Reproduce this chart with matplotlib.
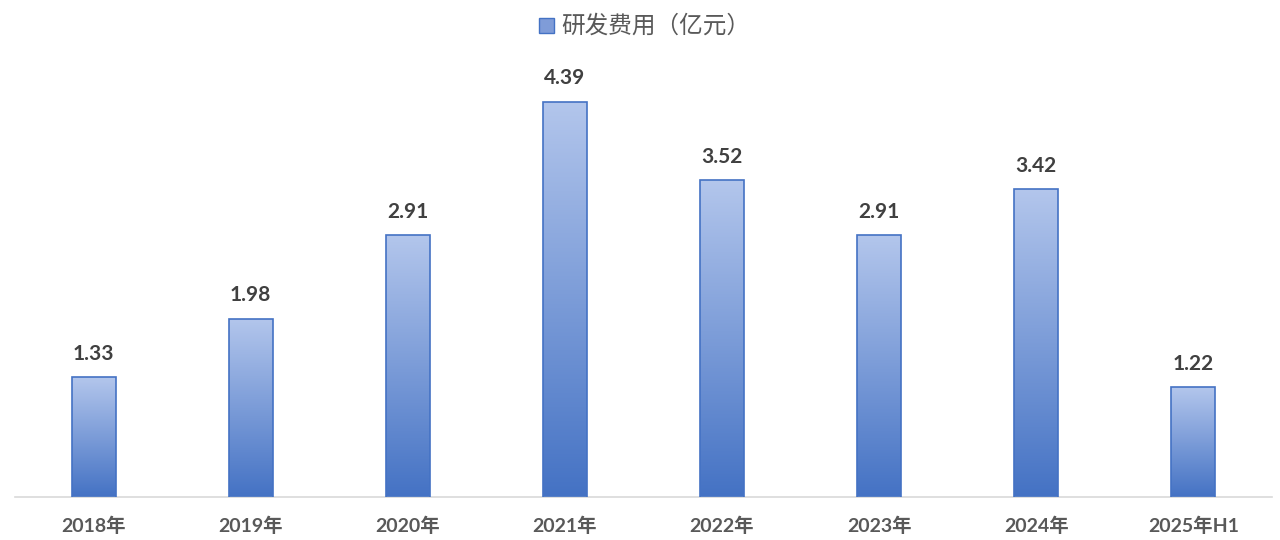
import numpy as np
import matplotlib.pyplot as plt
from matplotlib.patches import Rectangle
from matplotlib.colors import LinearSegmentedColormap

plt.rcParams['font.family'] = ['Lato', 'Noto Sans CJK SC', 'DejaVu Sans']

# data
years = ["2018年", "2019年", "2020年", "2021年", "2022年", "2023年", "2024年", "2025年H1"]
rd_cost = [1.33, 1.98, 2.91, 4.39, 3.52, 2.91, 3.42, 1.22]
series_name = "研发费用（亿元）"

grad = LinearSegmentedColormap.from_list("g", ["#4472c4", "#b3c6ec"])
edge = "#4472c4"

fig = plt.figure(figsize=(12.8, 5.4), dpi=100)
ax = fig.add_axes([15 / 1280, 43 / 540, 1257 / 1280, 450 / 540])

x = np.arange(len(years))
bars = ax.bar(x, rd_cost, width=0.28, color="none", edgecolor=edge, linewidth=1.2, zorder=3)

img = np.linspace(0, 1, 256).reshape(-1, 1)
for b, v in zip(bars, rd_cost):
    x0 = b.get_x()
    w = b.get_width()
    im = ax.imshow(img, cmap=grad, origin="lower", aspect="auto",
                   extent=[x0, x0 + w, 0, v], zorder=2)
    im.set_clip_path(b)
    ax.text(b.get_x() + w / 2, v + 0.15, f"{v:.2f}", ha="center", va="bottom",
            fontsize=15, fontweight="bold", color="#404040")

ax.set_xlim(-0.5, len(years) - 0.5)
ax.set_ylim(0, 5)
ax.set_xticks(x)
ax.set_xticklabels(years, fontsize=14, fontweight="bold", color="#595959")
ax.tick_params(axis="x", length=0, pad=14)
ax.set_yticks([])
for s in ["top", "right", "left"]:
    ax.spines[s].set_visible(False)
ax.spines["bottom"].set_color("#d9d9d9")
ax.spines["bottom"].set_linewidth(1.2)

# legend
fig.patches.append(Rectangle((539 / 1280, 1 - 33 / 540), 15 / 1280, 15 / 540,
                             transform=fig.transFigure, facecolor="#7f9cd8",
                             edgecolor=edge, linewidth=1))
fig.text(561 / 1280, 1 - 25 / 540, series_name, ha="left", va="center",
         fontsize=17, color="#595959")

fig.savefig("out.png", dpi=100)
